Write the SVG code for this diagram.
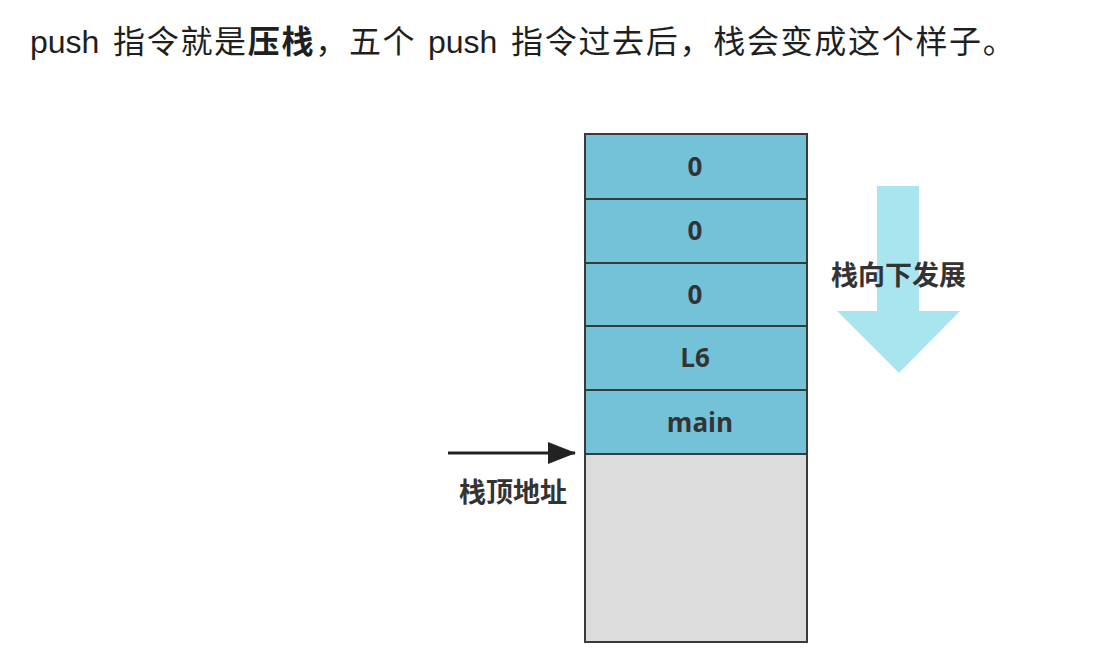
<svg xmlns="http://www.w3.org/2000/svg" width="1114" height="648" viewBox="0 0 1114 648">
  <style>
    .title { font-family: "Liberation Sans", "Noto Sans CJK SC", sans-serif; font-size: 32px; fill: #1f1f1f; }
    .cjk { font-family: "Noto Sans CJK SC", sans-serif; letter-spacing: 1.7px; }
    .cell { stroke: #3a3a3a; stroke-width: 2; }
    .used { fill: #73c2d7; }
    .free { fill: #dcdcdc; }
    .val { font-family: "Open Sans", "Noto Sans CJK SC", sans-serif; font-weight: bold; font-size: 26px; fill: #333; text-anchor: middle; }
    .lbl { font-family: "Noto Sans CJK SC", sans-serif; font-weight: bold; font-size: 27px; fill: #333; }
  </style>
  <defs>
    <marker id="head" markerUnits="userSpaceOnUse" markerWidth="28" markerHeight="22" refX="27" refY="11" orient="auto">
      <path d="M0,0 L28,11 L0,22 Z" fill="#222"/>
    </marker>
  </defs>
  <rect width="1114" height="648" fill="#ffffff"/>

  <text class="title" y="53"><tspan x="30">push</tspan><tspan class="cjk" x="113">指令就是<tspan font-weight="bold">压栈</tspan>，五个</tspan><tspan x="428">push</tspan><tspan class="cjk" x="511">指令过去后，栈会变成这个样子。</tspan></text>

  <!-- growth direction arrow -->
  <g id="growth">
    <path d="M877,186 L919,186 L919,311 L960,311 L899,373 L837,311 L877,311 Z" fill="#a9e5ef"/>
    <text class="lbl" x="831" y="285">栈向下发展</text>
  </g>

  <!-- stack slots, top to bottom -->
  <g id="slot0a"><rect class="cell used" x="585" y="134" width="222" height="65"/><text class="val" x="695" y="176">0</text></g>
  <g id="slot0b"><rect class="cell used" x="585" y="199" width="222" height="64"/><text class="val" x="695" y="240">0</text></g>
  <g id="slot0c"><rect class="cell used" x="585" y="263" width="222" height="63"/><text class="val" x="695" y="304">0</text></g>
  <g id="slotL6"><rect class="cell used" x="585" y="326" width="222" height="64"/><text class="val" x="695" y="367">L6</text></g>
  <g id="slotMain"><rect class="cell used" x="585" y="390" width="222" height="64"/><text class="val" x="700" y="432">main</text></g>
  <g id="freeArea"><rect class="cell free" x="585" y="454" width="222" height="188"/></g>

  <!-- stack top pointer -->
  <g id="connectors">
    <line x1="448" y1="453" x2="575" y2="453" stroke="#222" stroke-width="3" marker-end="url(#head)"/>
  </g>
  <g id="stackTop">
    <text class="lbl" x="459" y="502">栈顶地址</text>
  </g>
</svg>
